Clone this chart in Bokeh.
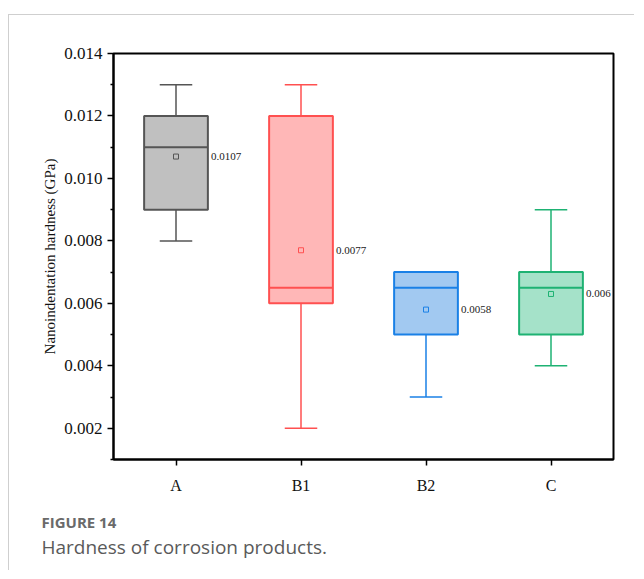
from bokeh.plotting import figure
from bokeh.models import Range1d, FixedTicker, Title, ColumnDataSource
from bokeh.core.properties import value
from bokeh.embed import file_html
from bokeh.resources import INLINE

categories = ["A", "B1", "B2", "C"]
whisker_low = [0.008, 0.002, 0.003, 0.004]
q1 = [0.009, 0.006, 0.005, 0.005]
median = [0.011, 0.0065, 0.0065, 0.0065]
q3 = [0.012, 0.012, 0.007, 0.007]
whisker_high = [0.013, 0.013, 0.007, 0.009]
mean = [0.0107, 0.0077, 0.0058, 0.0063]
mean_labels = ["0.0107", "0.0077", "0.0058", "0.006"]
y_ticks = [0.002, 0.004, 0.006, 0.008, 0.010, 0.012, 0.014]
y_minor = [0.001, 0.003, 0.005, 0.007, 0.009, 0.011, 0.013]

fill_colors = ["#c0c0c0", "#ffb7b7", "#a2c9f1", "#a5e2c9"]
line_colors = ["#555555", "#ff5050", "#1a80e6", "#1eb273"]

xs = [i + 0.5 for i in range(len(categories))]
box_w = 0.51
cap_w = 0.26

src = ColumnDataSource(dict(
    x=xs, low=whisker_low, q1=q1, med=median, q3=q3, high=whisker_high,
    mean=mean, lab=mean_labels, fill=fill_colors, line=line_colors,
    capl=[x - cap_w / 2 for x in xs], capr=[x + cap_w / 2 for x in xs],
    bl=[x - box_w / 2 for x in xs], br=[x + box_w / 2 for x in xs],
))

W, H = 626, 556
p = figure(width=W, height=H, output_backend="svg", toolbar_location=None,
           x_range=Range1d(0, 4), y_range=Range1d(0.001, 0.014),
           min_border_left=104, min_border_top=38, min_border_right=22,
           min_border_bottom=112)
p.styles = {"margin-top": "14px", "margin-left": "8px",
            "border-top": "1px solid #cfcfcf", "border-left": "1px solid #cfcfcf"}
p.xgrid.visible = False
p.ygrid.visible = False
p.outline_line_color = "black"
p.outline_line_width = 2
p.background_fill_color = "white"
p.border_fill_color = "white"

# whiskers
p.segment(x0="x", y0="low", x1="x", y1="q1", source=src, line_color="line", line_width=1.5)
p.segment(x0="x", y0="q3", x1="x", y1="high", source=src, line_color="line", line_width=1.5)
p.segment(x0="capl", y0="low", x1="capr", y1="low", source=src, line_color="line", line_width=1.5)
p.segment(x0="capl", y0="high", x1="capr", y1="high", source=src, line_color="line", line_width=1.5)
# boxes
p.vbar(x="x", width=box_w, bottom="q1", top="q3", source=src, fill_color="fill",
       line_color="line", line_width=2)
p.segment(x0="bl", y0="med", x1="br", y1="med", source=src, line_color="line", line_width=2)
# means
p.scatter(x="x", y="mean", source=src, marker="square", size=5, fill_color=None,
          line_color="line", line_width=1)
p.text(x="br", y="mean", text="lab", source=src, x_offset=3, text_baseline="middle",
       text_font=value("Liberation Serif"), text_font_size="11px", text_color="#222222")

# axes
p.xaxis.ticker = FixedTicker(ticks=xs)
p.xaxis.major_label_overrides = {x: c for x, c in zip(xs, categories)}
p.yaxis.ticker = FixedTicker(ticks=y_ticks, minor_ticks=y_minor)
p.yaxis.major_label_overrides = {t: f"{t:.3f}" for t in y_ticks}
for ax in (p.xaxis, p.yaxis):
    ax.axis_line_color = "black"
    ax.axis_line_width = 2
    ax.major_tick_line_color = "black"
    ax.major_tick_line_width = 1.5
    ax.major_tick_out = 6
    ax.major_tick_in = 0
    ax.major_label_text_font = "Liberation Serif"
    ax.major_label_text_color = "#111111"
p.xaxis.major_label_text_font_size = "16px"
p.yaxis.major_label_text_font_size = "17px"
p.yaxis.minor_tick_line_color = "black"
p.yaxis.minor_tick_line_width = 1.5
p.yaxis.minor_tick_out = 3
p.yaxis.minor_tick_in = 0
p.xaxis.minor_tick_line_color = None
p.yaxis.axis_label = "Nanoindentation hardness (GPa)"
p.yaxis.axis_label_text_font = "Liberation Serif"
p.yaxis.axis_label_text_font_style = "normal"
p.yaxis.axis_label_text_font_size = "15px"
p.yaxis.axis_label_text_color = "#111111"
p.yaxis.axis_label_standoff = 3
p.xaxis.major_label_standoff = 11

# caption as titles below the plot (first one is an empty spacer)
spacer = Title(text=" ", align="left", standoff=0, text_font_size="10px")
cap1 = Title(text="FIGURE 14", align="left", offset=-72, standoff=0,
             text_font="Open Sans", text_font_style="bold", text_font_size="15px",
             text_color="#6a6a6a")
cap2 = Title(text="Hardness of corrosion products.", align="left", offset=-72, standoff=0,
             text_font="Open Sans", text_font_style="normal", text_font_size="19px",
             text_color="#5a5a5a")
p.add_layout(spacer, "below")
p.add_layout(cap1, "below")
p.add_layout(cap2, "below")

open("out.html", "w").write(file_html(p, INLINE))
